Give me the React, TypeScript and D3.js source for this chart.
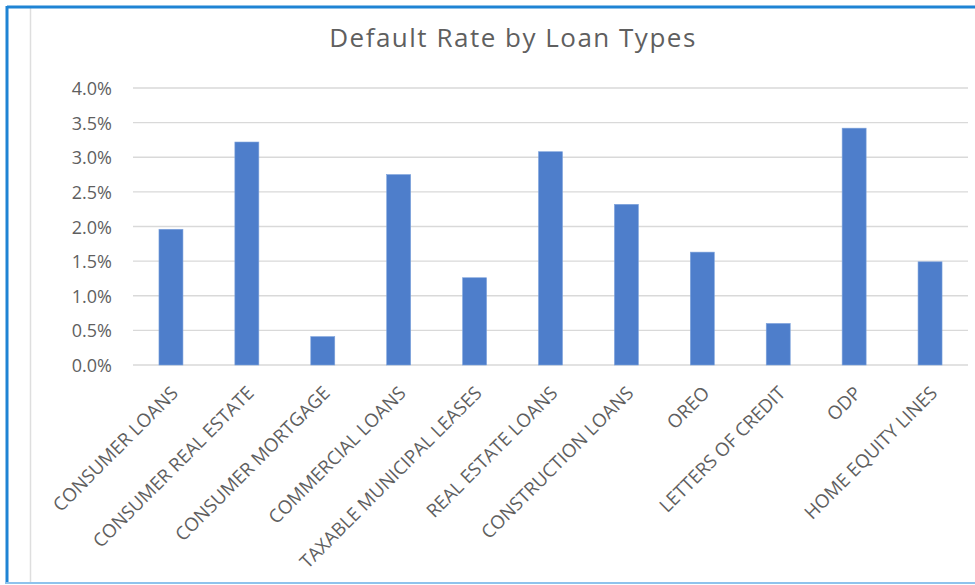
import React from "react";
import * as d3 from "d3";

const categories = [
  "CONSUMER LOANS",
  "CONSUMER REAL ESTATE",
  "CONSUMER MORTGAGE",
  "COMMERCIAL LOANS",
  "TAXABLE MUNICIPAL LEASES",
  "REAL ESTATE LOANS",
  "CONSTRUCTION LOANS",
  "OREO",
  "LETTERS OF CREDIT",
  "ODP",
  "HOME EQUITY LINES",
];
const defaultRates = [0.0196, 0.0322, 0.0041, 0.0275, 0.0126, 0.0308, 0.0232, 0.0163, 0.006, 0.0342, 0.0149];
const yTicks = [0, 0.005, 0.01, 0.015, 0.02, 0.025, 0.03, 0.035, 0.04];
const title = "Default Rate by Loan Types";

const W = 975;
const H = 585;
const FONT = "'Open Sans', 'Noto Sans', sans-serif";
const TEXT = "#5f5f5f";

export default function App() {
  const x = d3.scaleBand<string>().domain(categories).range([133, 968]).padding(0);
  const y = d3.scaleLinear().domain([0, 0.04]).range([365, 88]);
  const fmt = d3.format(".1%");
  const bw = x.bandwidth() * 0.316;

  return (
    <div style={{ position: "fixed", left: 0, top: 0, width: W, height: H, background: "#fff" }}>
      <svg width={W} height={H} style={{ display: "block" }}>
        <rect x={0} y={0} width={W} height={H} fill="#fff" />
        {/* frame */}
        <line x1={30.5} x2={30.5} y1={8} y2={582} stroke="#dedede" strokeWidth={1.5} />
        <line x1={7} x2={975} y1={7} y2={7} stroke="#1f84d4" strokeWidth={3} />
        <line x1={7} x2={7} y1={6} y2={584} stroke="#1f84d4" strokeWidth={3} />
        <line x1={6} x2={975} y1={583} y2={583} stroke="#8ec3ec" strokeWidth={2} />

        <text
          x={513}
          y={47}
          textAnchor="middle"
          fontFamily={FONT}
          fontSize={26}
          letterSpacing={1.5}
          fill={TEXT}
        >
          {title}
        </text>

        {yTicks.map((t) => (
          <g key={t}>
            <line x1={133} x2={968} y1={y(t)} y2={y(t)} stroke="#d9d9d9" strokeWidth={1.3} />
            <text
              x={112}
              y={y(t)}
              textAnchor="end"
              dominantBaseline="central"
              fontFamily={FONT}
              fontSize={18}
              fill={TEXT}
            >
              {fmt(t)}
            </text>
          </g>
        ))}

        {categories.map((c, i) => {
          const cx = (x(c) as number) + x.bandwidth() / 2;
          return (
            <g key={c}>
              <rect
                x={cx - bw / 2}
                y={y(defaultRates[i])}
                width={bw}
                height={y(0) - y(defaultRates[i])}
                fill="#4e7ecb"
                stroke="#7ea3dc"
                strokeWidth={0.6}
              />
              <text
                transform={`translate(${cx + 3},${389}) rotate(-45)`}
                textAnchor="end"
                dominantBaseline="central"
                fontFamily={FONT}
                fontSize={18.6}
                fill={TEXT}
              >
                {c}
              </text>
            </g>
          );
        })}
      </svg>
    </div>
  );
}
